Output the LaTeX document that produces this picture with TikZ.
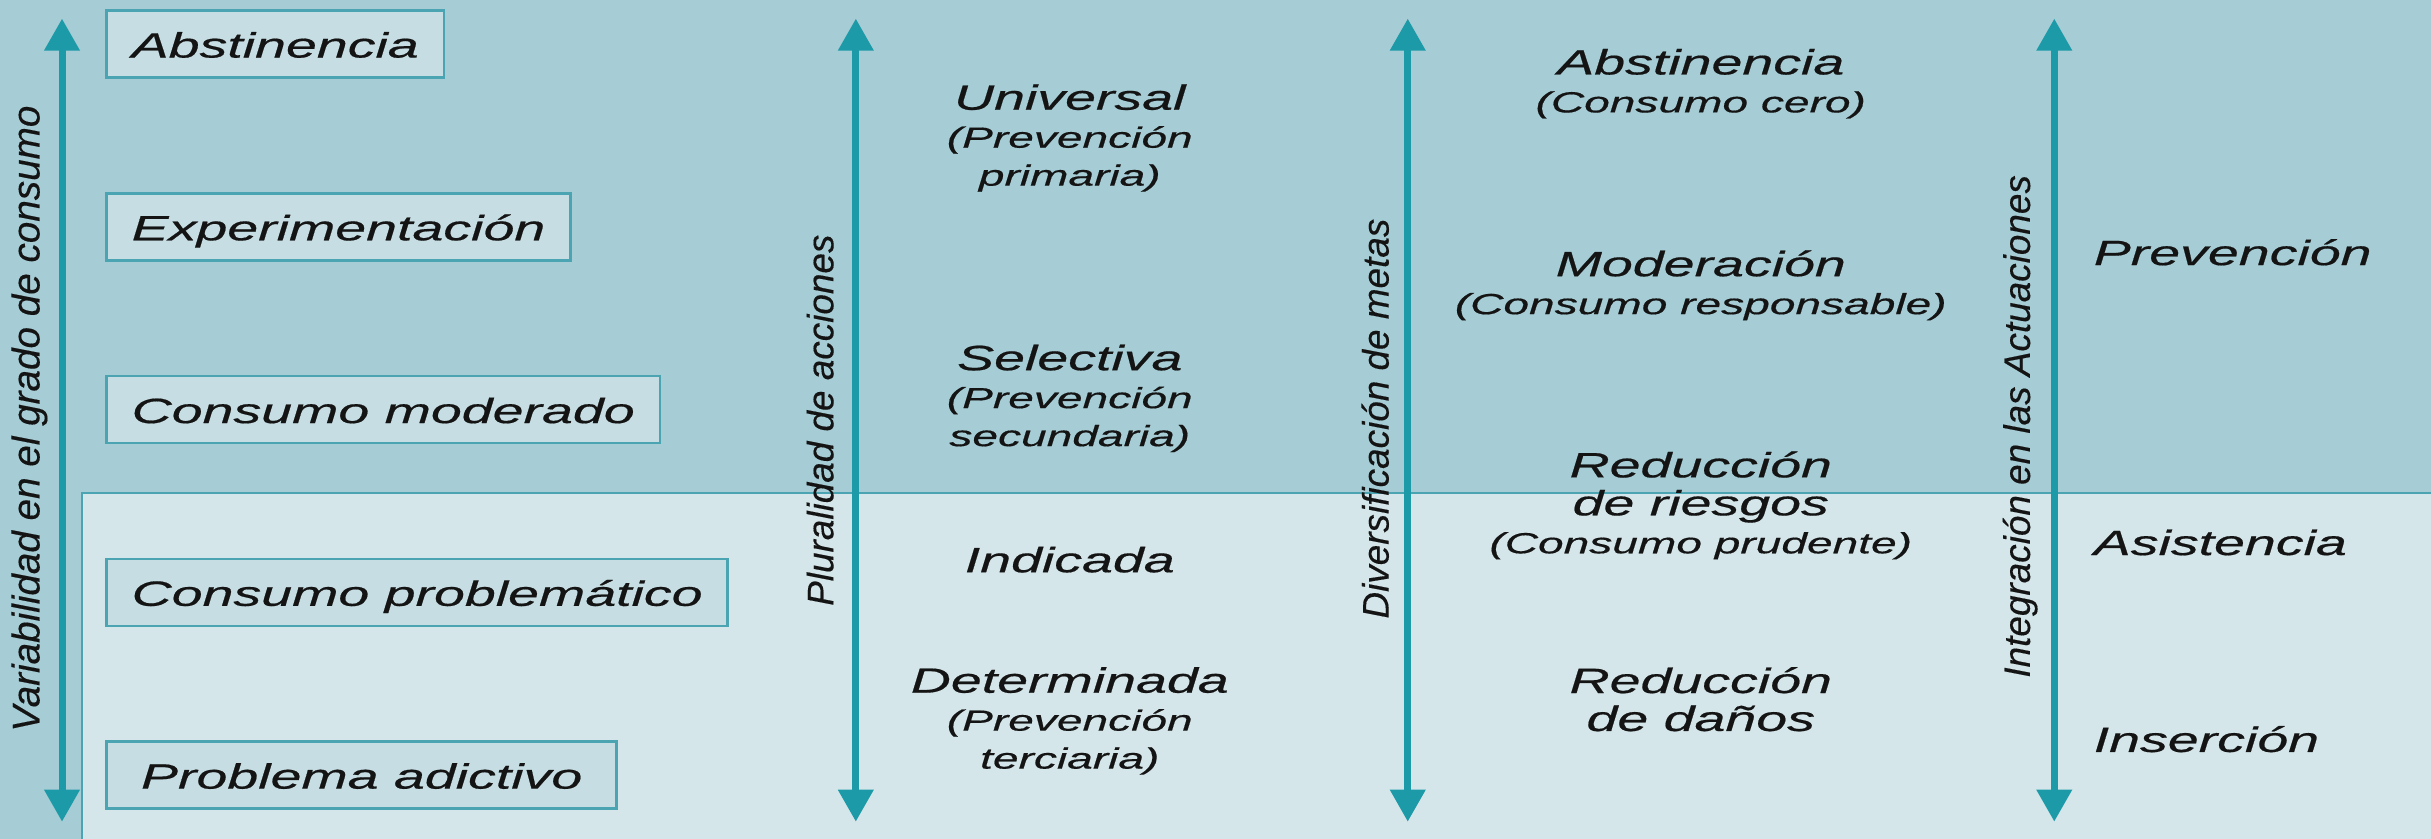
\documentclass[tikz,border=0pt]{standalone}
\usepackage{fontspec}
\setmainfont{Liberation Sans}[FakeBold=0.3]
\newfontfamily\widefont{Liberation Sans}[FakeStretch=1.58, FakeBold=0.5]
\usetikzlibrary{positioning,arrows.meta}

\definecolor{darkbg}{HTML}{A6CCD5}
\definecolor{lightbg}{HTML}{D4E6EA}
\definecolor{boxfill}{HTML}{C6DEE3}
\definecolor{boxline}{HTML}{4AA4B1}
\definecolor{axiscol}{HTML}{1C9AA8}
\definecolor{ink}{HTML}{141414}

\tikzset{
  stage/.style={draw=boxline, line width=0.7pt, fill=boxfill, text=ink,
    inner xsep=0.25cm, inner ysep=0.2cm, text height=0.27cm, text depth=0cm,
    font=\widefont\itshape\fontsize{10}{12}\selectfont},
  axis/.style={draw=axiscol, line width=2pt,
    {Triangle[width=0.34cm,length=0.32cm]}-{Triangle[width=0.34cm,length=0.32cm]}},
  axislabel/.style={rotate=90, text=ink, inner sep=0pt,
    font=\itshape\fontsize{10.5}{12}\selectfont},
  item/.style={align=center, text=ink, inner sep=0pt,
    font=\widefont\itshape\fontsize{10}{10.8}\selectfont},
  side/.style={anchor=base west, text=ink, inner sep=0pt,
    font=\widefont\itshape\fontsize{10}{12}\selectfont}
}
\newcommand{\sub}[1]{{\fontsize{8.3}{10.8}\selectfont #1}}

\begin{document}
\begin{tikzpicture}[x=0.0155cm, y=-0.0155cm]
\useasboundingbox (0,0) rectangle (1568,541);
\fill[darkbg] (0,0) rectangle (1568,541);
\filldraw[fill=lightbg, draw=boxline, line width=0.7pt] (53,318) rectangle (1575,548);

\node(abstinencia)     [stage, anchor=north west] at (68,6) {Abstinencia};
\node(experimentacion) [stage, below right=1.133cm and 0cm of abstinencia.south west] {Experimentación};
\node(moderado)        [stage, below right=1.133cm and 0cm of experimentacion.south west] {Consumo moderado};
\node(problematico)    [stage, below right=1.133cm and 0cm of moderado.south west] {Consumo problemático};
\node(adictivo)        [stage, minimum width=5.1cm, below right=1.133cm and 0cm of problematico.south west] {Problema adictivo};

\coordinate(vartop) at (40,12);
\coordinate(varbot) at (40,530);
\coordinate(pluraltop) at (552,12);
\coordinate(pluralbot) at (552,530);
\coordinate(metastop) at (908,12);
\coordinate(metasbot) at (908,530);
\coordinate(integtop) at (1325,12);
\coordinate(integbot) at (1325,530);
\draw[axis] (varbot) -- (vartop);
\draw[axis] (pluralbot) -- (pluraltop);
\draw[axis] (metasbot) -- (metastop);
\draw[axis] (integbot) -- (integtop);

\node(variabilidad)    [axislabel, font=\itshape\fontsize{11}{12}\selectfont] at (19,270) {Variabilidad en el grado de consumo};
\node(pluralidad)      [axislabel] at (529,271) {Pluralidad de acciones};
\node(diversificacion) [axislabel] at (887,270) {Diversificación de metas};
\node(integracion)     [axislabel] at (1303,275) {Integración en las Actuaciones};

\node(universal)   [item] at (690,89)  {Universal\\\sub{(Prevención}\\\sub{primaria)}};
\node(selectiva)   [item] at (690,257) {Selectiva\\\sub{(Prevención}\\\sub{secundaria)}};
\node(indicada)    [item] at (690,361) {Indicada};
\node(determinada) [item] at (690,465) {Determinada\\\sub{(Prevención}\\\sub{terciaria)}};

\node(cero)        [item] at (1097,54)  {Abstinencia\\\sub{(Consumo cero)}};
\node(moderacion)  [item] at (1097,184) {Moderación\\\sub{(Consumo responsable)}};
\node(riesgos)     [item] at (1097,326) {Reducción\\de riesgos\\\sub{(Consumo prudente)}};
\node(danos)       [item] at (1097,451) {Reducción\\de daños};

\node(prevencion)  [side] at (1350,171) {Prevención};
\node(asistencia)  [side] at (1350,358) {Asistencia};
\node(insercion)   [side] at (1350,485) {Inserción};
\end{tikzpicture}
\end{document}
